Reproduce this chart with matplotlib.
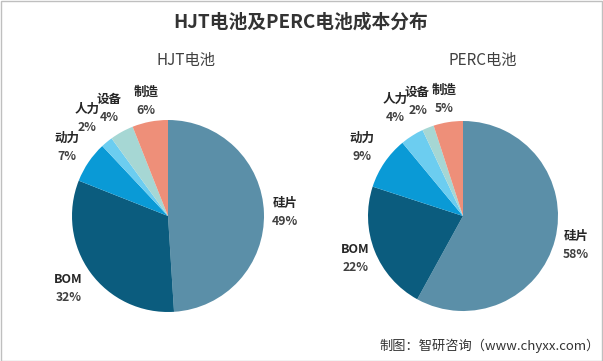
import matplotlib
matplotlib.use("Agg")
import matplotlib.pyplot as plt
import numpy as np

plt.rcParams['font.family'] = ['Noto Sans CJK SC', 'DejaVu Sans']

categories = ['硅片', 'BOM', '动力', '人力', '设备', '制造']
hjt_values = [49, 32, 7, 2, 4, 6]
perc_values = [58, 22, 9, 4, 2, 5]
colors = ['#5B8FA8', '#0B5C7E', '#0A9AD6', '#6CCDF0', '#A6D7D4', '#EE8F79']

title = 'HJT电池及PERC电池成本分布'
sub_titles = ['HJT电池', 'PERC电池']
source = '制图：智研咨询（www.chyxx.com）'

# label distances (layout only)
hjt_label_dist = [1.22, 1.28, 1.27, 1.32, 1.28, 1.22]
perc_label_dist = [1.23, 1.22, 1.29, 1.34, 1.30, 1.24]

W, H = 603, 361
fig = plt.figure(figsize=(W / 100, H / 100), dpi=100)
fig.patch.set_facecolor('white')

border = plt.Rectangle((0.5 / W, 0.5 / H), 1 - 1.5 / W, 1 - 1.5 / H, transform=fig.transFigure,
                       fill=False, edgecolor='#BFBFBF', linewidth=1)
fig.add_artist(border)

fig.text(301 / W, 1 - 22 / H, title, ha='center', va='center', fontsize=13.5,
         fontweight='bold', color='#333333')


def draw_pie(cx, cy, r, values, dists, subtitle, sx):
    ax = fig.add_axes([(cx - r) / W, (H - cy - r) / H, 2 * r / W, 2 * r / H])
    ax.pie(values, colors=colors, startangle=90, counterclock=False,
           wedgeprops=dict(linewidth=0))
    ax.set_xlim(-1, 1)
    ax.set_ylim(-1, 1)
    ax.set_aspect('equal')
    ax.axis('off')
    total = sum(values)
    start = 90.0
    for cat, v, d in zip(categories, values, dists):
        span = 360.0 * v / total
        mid = np.deg2rad(start - span / 2)
        start -= span
        x, y = d * np.cos(mid), d * np.sin(mid)
        ax.text(x, y + 0.095, cat, ha='center', va='center', fontsize=9,
                fontweight='bold', color='#262626', clip_on=False)
        ax.text(x, y - 0.095, f'{v}%', ha='center', va='center', fontsize=8.8,
                fontweight='bold', color='#404040', clip_on=False)
    fig.text(sx / W, 1 - 60 / H, subtitle, ha='center', va='center', fontsize=11,
             color='#404040')


draw_pie(168, 216, 96, hjt_values, hjt_label_dist, sub_titles[0], 186)
draw_pie(463, 216, 95, perc_values, perc_label_dist, sub_titles[1], 483)

fig.text(600 / W, 1 - 346 / H, source, ha='right', va='center', fontsize=9.5,
         color='#333333')

fig.savefig('out.png', dpi=100, facecolor='white')
